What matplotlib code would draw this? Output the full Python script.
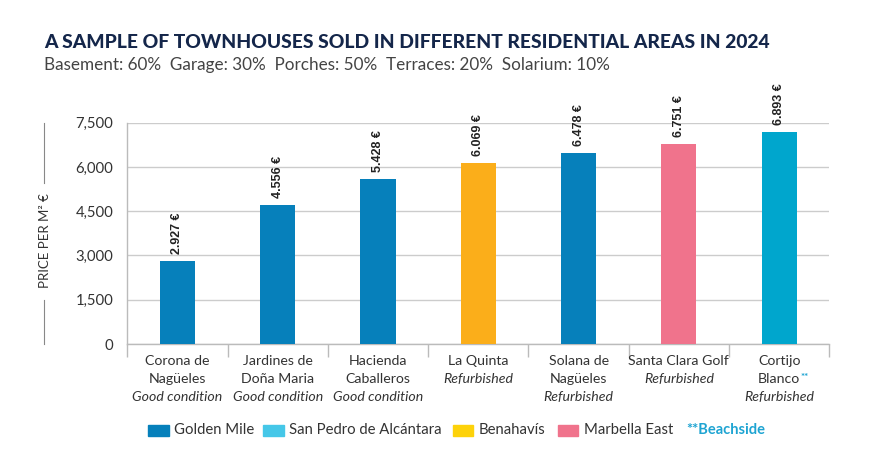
import matplotlib
matplotlib.use("Agg")
import matplotlib.pyplot as plt
from matplotlib.patches import Rectangle

plt.rcParams['font.family'] = ['Lato', 'DejaVu Sans']

# ---- data ----
names_line1 = ["Corona de", "Jardines de", "Hacienda", "La Quinta", "Solana de", "Santa Clara Golf", "Cortijo"]
names_line2 = ["Nagüeles", "Doña Maria", "Caballeros", "", "Nagüeles", "", "Blanco"]
conditions = ["Good condition", "Good condition", "Good condition", "Refurbished",
              "Refurbished", "Refurbished", "Refurbished"]
bar_heights = [2820, 4710, 5590, 6120, 6480, 6770, 7180]
value_labels = ["2.927 €", "4.556 €", "5.428 €", "6.069 €", "6.478 €", "6.751 €", "6.893 €"]
areas = ["Golden Mile", "Golden Mile", "Golden Mile", "Benahavís", "Golden Mile",
         "Marbella East", "San Pedro de Alcántara"]
beachside = [False, False, False, False, False, False, True]
y_ticks = [0, 1500, 3000, 4500, 6000, 7500]

bar_colors = {"Golden Mile": "#0680bb", "San Pedro de Alcántara": "#00a6cd",
              "Benahavís": "#fbae1a", "Marbella East": "#f0738c"}
legend_names = ["Golden Mile", "San Pedro de Alcántara", "Benahavís", "Marbella East"]
legend_colors = ["#0680bb", "#45c7e8", "#fdd20a", "#f0738c"]
beach_color = "#1ea4d2"

fig = plt.figure(figsize=(8.8, 4.72), dpi=100)
ax = fig.add_axes([127.3 / 880, 1 - 344 / 472, (829.3 - 127.3) / 880, (344 - 122.7) / 472])

x = list(range(len(bar_heights)))
ax.bar(x, bar_heights, width=0.35, color=[bar_colors[a] for a in areas], zorder=3)
ax.set_xlim(-0.5, len(x) - 0.5)
ax.set_ylim(0, 7500)
ax.set_yticks(y_ticks)
ax.set_yticklabels([f"{v:,}" for v in y_ticks], fontsize=10.7, color="#333333")
ax.tick_params(axis='y', length=0, pad=10)
ax.grid(axis='y', color="#cccccc", linewidth=1, zorder=0)
for s in ["top", "right"]:
    ax.spines[s].set_visible(False)
for s in ["left", "bottom"]:
    ax.spines[s].set_color("#bbbbbb")
    ax.spines[s].set_linewidth(1)
ax.set_xticks([i - 0.5 for i in range(len(x) + 1)])
ax.set_xticklabels([])
ax.tick_params(axis='x', length=9, color="#bbbbbb", width=1)

# value labels
for xi, h, lab in zip(x, bar_heights, value_labels):
    ax.annotate(lab, xy=(xi, h), xytext=(0, 5), textcoords="offset points",
                rotation=90, ha="center", va="bottom", fontsize=9,
                fontweight="bold", color="#222222",
                family=["Liberation Sans", "DejaVu Sans"])

# category labels
trans = ax.get_xaxis_transform()
for xi, l1, l2, c, b in zip(x, names_line1, names_line2, conditions, beachside):
    lines = [(l1, "normal")]
    if l2:
        lines.append((l2, "normal"))
    lines.append((c, "italic"))
    for k, (t, st) in enumerate(lines):
        tt = ax.annotate(t, xy=(xi, 0), xycoords=trans, xytext=(0, -8 - 13 * k),
                         textcoords="offset points", ha="center", va="top",
                         fontsize=10.2, style=st, color="#333333")
        if b and k == 1:
            ax.annotate("**", xy=(1, 1), xycoords=tt, xytext=(0.5, 0),
                        textcoords="offset points", ha="left", va="top",
                        fontsize=7, fontweight="bold", color=beach_color)

# y axis label with lines
fig.text(45 / 880, 1 - 241 / 472, "PRICE PER M² €", rotation=90, ha="center",
         va="center", fontsize=9.5, color="#333333")
fig.add_artist(plt.Line2D([44 / 880, 44 / 880], [1 - 122.7 / 472, 1 - 183 / 472],
                          color="#888888", linewidth=0.8))
fig.add_artist(plt.Line2D([44 / 880, 44 / 880], [1 - 300 / 472, 1 - 344 / 472],
                          color="#888888", linewidth=0.8))

# title
fig.text(44 / 880, 1 - 42 / 472, "A SAMPLE OF TOWNHOUSES SOLD IN DIFFERENT RESIDENTIAL AREAS IN 2024",
         fontsize=13.85, fontweight="black", color="#14264a", ha="left", va="center")
fig.text(44 / 880, 1 - 65 / 472, "Basement: 60%  Garage: 30%  Porches: 50%  Terraces: 20%  Solarium: 10%",
         fontsize=12.3, color="#444444", ha="left", va="center")

# legend
leg_x = [148.3, 263.3, 452.7, 557.7]
for lx, name, col in zip(leg_x, legend_names, legend_colors):
    fig.add_artist(Rectangle((lx / 880, 1 - 436 / 472), 20.7 / 880, 11 / 472,
                             transform=fig.transFigure, color=col))
    fig.text((lx + 26) / 880, 1 - 430.5 / 472, name, fontsize=10.7, color="#333333",
             ha="left", va="center")
fig.text(686 / 880, 1 - 430.5 / 472, "**Beachside", fontsize=10.5, fontweight="bold",
         color=beach_color, ha="left", va="center")

fig.savefig("out.png", dpi=100, facecolor="white")
